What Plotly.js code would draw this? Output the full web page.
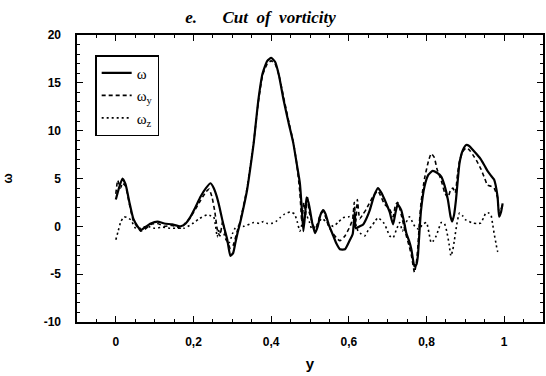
<!DOCTYPE html>
<html>
<head>
<meta charset="utf-8">
<script src="https://cdn.plot.ly/plotly-3.0.1.min.js"></script>
<style>html,body{margin:0;padding:0;background:#fff;}#chart{width:546px;height:376px;}</style>
</head>
<body>
<div id="chart"></div>
<script>
// omega (solid)
const xW = [0.000,0.008,0.017,0.025,0.035,0.045,0.056,0.064,0.075,0.09,0.107,0.125,0.145,0.167,0.18,0.19,0.205,0.218,0.232,0.244,0.252,0.26,0.267,0.274,0.28,0.287,0.295,0.302,0.308,0.314,0.32,0.328,0.338,0.346,0.355,0.367,0.378,0.39,0.40,0.41,0.42,0.432,0.445,0.457,0.466,0.474,0.479,0.483,0.488,0.491,0.496,0.50,0.506,0.513,0.52,0.527,0.534,0.54,0.548,0.56,0.568,0.577,0.59,0.603,0.61,0.615,0.618,0.628,0.637,0.645,0.654,0.665,0.675,0.684,0.692,0.705,0.714,0.72,0.726,0.735,0.742,0.748,0.755,0.761,0.769,0.774,0.778,0.782,0.786,0.795,0.805,0.816,0.827,0.838,0.847,0.855,0.862,0.866,0.871,0.876,0.885,0.893,0.902,0.91,0.919,0.93,0.94,0.95,0.957,0.966,0.974,0.983,0.987,0.992,0.996];
const yW = [2.8,4.0,5.0,4.4,2.5,0.8,0.0,-0.4,-0.1,0.3,0.5,0.3,0.2,0.0,0.3,0.85,2.0,3.1,4.0,4.5,4.0,3.1,2.0,0.7,-0.3,-1.4,-3.1,-2.8,-1.7,-0.6,0.35,1.8,3.8,6.0,8.7,13.2,16.0,17.3,17.6,17.2,15.8,13.2,10.8,8.7,6.5,4.5,1.8,-0.5,1.5,3.0,2.5,1.7,0.3,-0.7,0.0,1.2,1.7,1.3,0.2,-1.0,-1.8,-2.4,-2.4,-1.4,-0.8,1.5,-0.2,0.0,0.2,0.8,1.7,3.2,4.0,3.5,2.8,1.5,0.2,1.4,2.3,1.7,0.5,-0.7,-1.5,-2.4,-4.2,-4.0,-3.0,-0.5,1.7,4.2,5.4,5.8,5.6,5.2,4.2,2.8,1.0,0.5,1.2,2.8,6.6,7.9,8.5,8.4,8.0,7.5,7.0,6.3,5.8,5.3,4.9,3.1,1.0,1.5,2.4];

// omega_y (dashed)
const xWy = [0.000,0.005,0.012,0.017,0.025,0.035,0.045,0.056,0.064,0.075,0.09,0.107,0.125,0.145,0.167,0.18,0.19,0.205,0.218,0.232,0.24,0.248,0.255,0.262,0.268,0.275,0.28,0.287,0.295,0.302,0.308,0.314,0.32,0.328,0.338,0.346,0.355,0.367,0.378,0.39,0.40,0.41,0.42,0.432,0.445,0.457,0.466,0.474,0.479,0.484,0.488,0.493,0.498,0.505,0.513,0.52,0.527,0.534,0.54,0.548,0.56,0.568,0.577,0.59,0.603,0.61,0.614,0.618,0.622,0.628,0.637,0.645,0.654,0.665,0.675,0.684,0.692,0.705,0.714,0.72,0.726,0.735,0.742,0.748,0.755,0.761,0.769,0.774,0.778,0.782,0.786,0.795,0.805,0.812,0.82,0.827,0.838,0.847,0.855,0.862,0.868,0.874,0.88,0.885,0.893,0.902,0.91,0.919,0.93,0.94,0.95,0.957,0.966,0.974,0.983,0.987,0.992,0.996];
const yWy = [3.4,4.8,4.0,4.5,4.2,2.3,0.6,-0.1,-0.5,-0.3,0.2,0.3,0.0,0.1,-0.2,0.4,0.8,1.8,2.7,3.6,3.9,3.0,1.5,-0.5,-1.0,0.5,-0.5,-1.6,-2.3,-2.0,-1.2,-0.3,0.5,2.0,4.0,6.2,8.8,13.0,15.8,17.0,17.3,17.0,15.8,13.5,11.0,8.8,6.5,3.5,0.5,2.5,1.0,3.2,1.5,0.5,-0.3,0.3,1.3,1.5,1.0,0.0,-0.8,-1.2,-1.5,-1.0,0.0,0.8,2.5,0.5,2.8,0.8,1.3,1.8,2.5,3.3,3.7,3.0,2.3,1.8,1.0,2.2,2.5,1.2,0.0,-1.0,-2.0,-3.0,-4.8,-3.8,-2.0,0.5,2.5,5.0,6.8,7.6,7.2,6.0,4.8,3.5,3.0,3.8,4.0,3.5,5.5,6.8,7.8,8.2,8.0,7.5,6.8,6.0,5.0,4.3,4.2,4.0,3.0,1.5,1.8,2.2];

// omega_z (dotted)
const xWz = [0.000,0.006,0.013,0.021,0.03,0.038,0.045,0.051,0.065,0.08,0.1,0.12,0.14,0.16,0.175,0.19,0.2,0.215,0.235,0.245,0.252,0.257,0.261,0.266,0.27,0.278,0.285,0.292,0.3,0.307,0.312,0.33,0.355,0.37,0.38,0.39,0.4,0.412,0.423,0.435,0.449,0.46,0.467,0.474,0.48,0.49,0.498,0.505,0.515,0.53,0.545,0.56,0.572,0.585,0.6,0.61,0.617,0.624,0.632,0.641,0.65,0.658,0.667,0.675,0.69,0.698,0.705,0.714,0.722,0.731,0.738,0.745,0.756,0.762,0.77,0.78,0.79,0.8,0.806,0.812,0.818,0.825,0.832,0.838,0.846,0.852,0.858,0.863,0.868,0.872,0.878,0.885,0.893,0.9,0.91,0.918,0.93,0.94,0.947,0.953,0.96,0.966,0.97,0.974,0.979,0.983,0.987];
const yWz = [-1.4,-0.5,0.5,1.0,0.9,0.7,0.2,-0.2,-0.2,0.0,-0.2,-0.1,-0.2,-0.2,-0.2,0.1,0.35,0.8,1.2,1.1,1.0,0.0,-1.1,-0.3,-0.7,-0.8,-1.5,-1.7,-0.8,-0.2,0.0,0.0,0.4,0.3,0.5,0.3,0.3,0.5,0.9,1.3,1.5,1.3,0.5,-0.5,0.3,1.2,0.5,-0.3,0.0,0.8,0.4,0.0,0.4,0.9,1.0,1.2,0.3,-0.5,-0.8,-1.0,-0.4,0.0,0.5,0.9,0.35,-0.3,-1.0,-1.2,-0.4,0.4,-0.5,0.2,1.0,0.6,0.0,-0.3,0.2,0.4,-0.6,-1.7,-1.5,-1.0,-0.2,0.4,0.3,-0.5,-1.8,-3.1,-2.4,-1.4,0.2,1.4,1.1,0.7,0.5,0.35,0.3,0.35,0.9,1.4,1.4,1.2,0.3,-0.7,-1.8,-2.6,-2.8];

const seriesNames = ['ω', 'ω<sub>y</sub>', 'ω<sub>z</sub>'];
const xTickVals = [0, 0.2, 0.4, 0.6, 0.8, 1];
const xTickText = ['0', '0,2', '0,4', '0,6', '0,8', '1'];
const yTickVals = [-10, -5, 0, 5, 10, 15, 20];
const yTickText = ['-10', '-5', '0', '5', '10', '15', '20'];

const traces = [
  {x: xW, y: yW, name: seriesNames[0], mode: 'lines', line: {color: '#000', width: 2.2, shape: 'spline', smoothing: 0.5}},
  {x: xWy, y: yWy, name: seriesNames[1], mode: 'lines', line: {color: '#000', width: 1.6, dash: '4px,3px', shape: 'spline', smoothing: 0.5}},
  {x: xWz, y: yWz, name: seriesNames[2], mode: 'lines', line: {color: '#000', width: 1.6, dash: '2px,3px', shape: 'spline', smoothing: 0.5}}
];

const tickFont = {family: 'Liberation Sans, Arial, sans-serif', size: 12, color: '#000', weight: 'bold'};

const layout = {
  width: 546, height: 376,
  margin: {l: 77, r: 3, t: 35, b: 54},
  paper_bgcolor: '#fff', plot_bgcolor: '#fff',
  showlegend: true,
  title: {
    text: '<b><i>e.\u00A0\u00A0\u00A0\u00A0\u00A0\u00A0Cut\u00A0 of\u00A0 vorticity</i></b>',
    font: {family: 'Liberation Serif, Times New Roman, serif', size: 17, color: '#000'},
    xref: 'container', x: 0.477, xanchor: 'center',
    yref: 'container', y: 0.955, yanchor: 'middle'
  },
  xaxis: {
    range: [-0.1, 1.1],
    tickvals: xTickVals, ticktext: xTickText,
    ticks: 'inside', ticklen: 6, tickwidth: 1.2, tickcolor: '#000',
    minor: {dtick: 0.05, ticks: 'inside', ticklen: 3, tickcolor: '#000', tickwidth: 1},
    showline: true, linecolor: '#000', linewidth: 1.6, mirror: 'ticks',
    showgrid: false, zeroline: false,
    tickfont: tickFont, ticklabelstandoff: 8,
    title: {text: '<b>y</b>', font: {family: 'Liberation Sans, Arial, sans-serif', size: 15, color: '#000'}, standoff: 10}
  },
  yaxis: {
    range: [-10, 20],
    tickvals: yTickVals, ticktext: yTickText,
    ticks: 'inside', ticklen: 6, tickwidth: 1.2, tickcolor: '#000',
    minor: {dtick: 1, ticks: 'inside', ticklen: 3, tickcolor: '#000', tickwidth: 1},
    showline: true, linecolor: '#000', linewidth: 1.6, mirror: 'ticks',
    showgrid: false, zeroline: false,
    tickfont: tickFont, ticklabelstandoff: 12,
    title: {text: '<b>ω</b>', font: {family: 'Liberation Sans, Arial, sans-serif', size: 12, color: '#000'}, standoff: 28}
  },
  legend: {
    x: 0.039, xanchor: 'left', y: 0.93, yanchor: 'top',
    bgcolor: '#fff', bordercolor: '#000', borderwidth: 1.5,
    font: {family: 'Liberation Serif, Times New Roman, serif', size: 15, color: '#000'},
    tracegroupgap: 0, itemwidth: 30
  }
};

Plotly.newPlot('chart', traces, layout, {displayModeBar: false, staticPlot: true});
</script>
</body>
</html>
